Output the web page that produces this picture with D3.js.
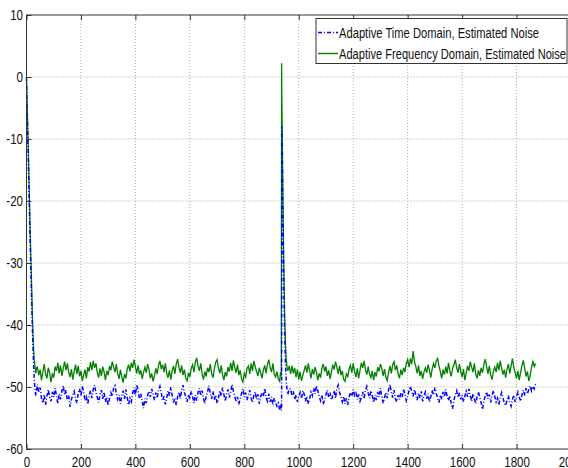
<!DOCTYPE html>
<html lang="en">
    <head>
        <meta charset="utf-8">
        <title>Adaptive noise estimate</title>
        <script src="https://cdn.jsdelivr.net/npm/d3@7"></script>
        <style type="text/css">
            body { margin: 0; background: #fff; }
            svg { display: block; }
            .axis text {
                font-family: "Liberation Sans", Arial, sans-serif;
                font-size: 15px;
                fill: #111;
            }
            .axis path, .axis line { stroke: #333; }
        </style>
    </head>
    <body>
        <script type="text/javascript">

            // ticks
            var xTicks=[0,200,400,600,800,1000,1200,1400,1600,1800,2000];
            var yTicks=[-60,-50,-40,-30,-20,-10,0,10];

            var seriesNames=["Adaptive Time Domain, Estimated Noise","Adaptive Frequency Domain, Estimated Noise"];

            // start-up transient
            var startX=[0,2,4,6,8,10,13,16,19,22,25,28,31,34,37];
            var startFreq=[0,-4,-7,-10,-14,-18,-24,-29,-34,-39,-43,-45.5,-46.5,-47.8,-46.9];
            var startTime=[0,-5,-9,-12,-16,-20,-26,-31,-36,-41,-45,-48.5,-50.2,-51.4,-50.6];

            // noise floor before the spike, samples 40..930 every 5
            var noiseStep=5;
            var noise1Start=40;
            var freqNoise1=[-46.8,-48.1,-47.2,-48.9,-47.6,-46.3,-47.9,-48.6,-46.9,-47.7,
                -49.2,-47.8,-48.5,-46.7,-47.4,-46.1,-47.8,-46.5,-48.2,-47.0,
                -45.9,-47.3,-46.2,-47.6,-48.4,-47.1,-48.8,-47.5,-46.4,-47.9,
                -46.6,-48.3,-47.4,-49.0,-48.1,-47.2,-48.6,-46.8,-47.5,-46.0,
                -47.3,-45.8,-46.9,-46.2,-47.7,-48.5,-47.0,-48.2,-46.7,-47.6,
                -48.9,-47.4,-48.1,-46.6,-47.3,-45.9,-46.8,-47.6,-46.3,-47.9,
                -48.7,-47.2,-48.4,-49.3,-47.9,-48.6,-47.1,-46.4,-47.5,-46.1,
                -46.9,-45.6,-46.7,-47.8,-46.5,-48.0,-47.3,-48.7,-47.6,-46.8,
                -47.7,-46.3,-47.2,-48.6,-47.8,-49.1,-48.2,-47.0,-47.9,-46.5,
                -45.8,-47.1,-46.4,-47.6,-46.2,-47.8,-48.5,-47.3,-48.8,-47.4,
                -46.6,-47.9,-46.3,-45.5,-46.8,-47.7,-46.5,-48.1,-47.2,-48.6,
                -49.0,-47.7,-48.4,-47.0,-46.4,-47.6,-46.0,-45.3,-46.6,-47.4,
                -46.2,-47.9,-48.8,-47.5,-48.3,-46.9,-47.6,-46.3,-47.8,-48.5,
                -47.1,-46.0,-45.6,-46.9,-47.8,-46.5,-48.0,-48.9,-47.6,-48.3,
                -46.8,-47.5,-46.1,-47.4,-45.7,-46.9,-47.7,-46.4,-48.1,-47.3,
                -48.7,-49.2,-47.8,-48.4,-47.0,-46.6,-47.9,-46.2,-47.4,-45.8,
                -46.7,-47.5,-48.2,-46.9,-47.7,-48.6,-47.3,-46.5,-47.8,-46.4,
                -45.6,-46.9,-47.6,-46.2,-47.9,-48.4,-47.5,-48.7,-49.1];
            var timeNoise1=[-49.6,-50.9,-50.1,-51.8,-52.6,-51.2,-52.9,-51.5,-50.4,-51.7,
                -52.3,-50.8,-51.6,-50.2,-51.4,-52.7,-51.1,-52.0,-50.6,-49.8,
                -51.3,-50.5,-52.1,-51.4,-53.2,-52.0,-51.3,-50.7,-51.9,-52.6,
                -51.0,-50.3,-51.5,-49.9,-50.8,-52.2,-51.6,-52.8,-51.4,-50.6,
                -51.8,-50.4,-49.7,-50.9,-51.7,-52.5,-51.2,-50.5,-51.9,-50.8,
                -52.4,-51.6,-53.0,-51.8,-50.9,-51.5,-50.2,-49.8,-51.1,-52.0,
                -51.3,-52.7,-51.5,-50.6,-51.9,-50.4,-51.7,-52.9,-51.8,-52.4,
                -51.0,-50.1,-51.4,-49.6,-50.7,-51.9,-51.1,-52.3,-53.4,-51.9,
                -52.6,-51.3,-50.7,-51.6,-50.3,-51.2,-52.1,-50.9,-51.8,-50.5,
                -49.9,-51.0,-52.2,-51.5,-52.8,-51.7,-50.6,-51.4,-50.0,-51.3,
                -52.5,-51.8,-52.9,-51.6,-50.8,-51.9,-50.5,-49.7,-50.9,-51.6,
                -52.4,-51.2,-52.0,-50.7,-51.5,-52.6,-51.3,-52.2,-50.9,-50.2,
                -51.4,-50.6,-51.8,-52.7,-51.5,-50.8,-49.8,-51.0,-51.9,-50.7,
                -52.1,-51.3,-52.6,-51.8,-50.6,-51.4,-50.1,-51.2,-52.3,-51.1,
                -50.4,-51.7,-50.8,-49.6,-50.7,-51.5,-52.4,-51.6,-52.8,-51.9,
                -51.0,-50.3,-51.6,-50.9,-52.1,-51.3,-50.5,-51.8,-52.5,-51.4,
                -50.8,-52.0,-51.2,-52.7,-51.6,-50.9,-51.5,-50.2,-51.7,-52.3,
                -51.1,-52.4,-51.6,-52.9,-51.8,-52.5,-53.1,-52.6,-53.7];

            // spike near sample 937
            var spikeX=[933,936,937,938,940,942,945,948,951,954,957,960,965];
            var spikeFreq=[-47.6,-48.2,2.2,-4,-11,-20,-30,-38,-43,-45.5,-46.8,-47.4,-46.6];
            var spikeTime=[-52.9,-53.8,-53.5,-8,-15,-23,-33,-41,-46,-49,-50.5,-51.2,-50.3];

            // noise floor after the spike, samples 970..1870 every 5
            var noise2Start=970;
            var freqNoise2=[-47.9,-46.6,-47.8,-46.9,-48.4,-47.2,-48.8,-47.5,-49.0,-48.1,
                -47.3,-46.5,-47.7,-46.2,-47.4,-48.6,-47.1,-48.0,-46.8,-47.6,
                -48.9,-47.8,-48.5,-47.0,-46.3,-47.5,-46.7,-48.2,-47.3,-48.7,
                -47.6,-46.4,-47.2,-45.9,-46.8,-47.9,-46.6,-48.1,-47.4,-48.8,
                -49.1,-47.9,-48.3,-47.1,-46.5,-47.7,-46.2,-47.5,-48.4,-47.0,
                -48.6,-47.3,-46.1,-46.9,-45.8,-47.2,-48.0,-46.7,-47.9,-48.5,
                -47.4,-48.9,-47.6,-48.3,-46.8,-47.5,-46.3,-47.0,-48.2,-47.1,
                -48.4,-49.0,-47.7,-46.6,-47.8,-46.4,-45.9,-47.3,-46.5,-47.9,
                -48.6,-47.2,-48.1,-46.9,-47.6,-46.2,-45.6,-46.8,-45.4,-46.3,
                -44.2,-45.9,-46.7,-47.8,-46.5,-48.2,-47.4,-48.7,-47.6,-46.9,
                -47.7,-46.4,-47.3,-48.5,-47.1,-46.2,-46.9,-45.8,-45.4,-46.6,
                -47.5,-48.6,-47.2,-48.0,-46.7,-47.8,-46.1,-47.4,-48.3,-47.0,
                -46.4,-45.6,-46.9,-47.7,-46.3,-47.5,-48.4,-47.1,-48.9,-47.8,
                -46.6,-47.4,-45.9,-46.8,-47.6,-46.2,-47.9,-48.6,-47.3,-48.2,
                -46.9,-47.7,-46.4,-45.5,-46.7,-47.9,-46.6,-48.1,-48.8,-47.5,
                -46.8,-47.6,-46.1,-47.3,-45.8,-46.9,-48.0,-47.2,-48.5,-47.1,
                -46.3,-47.8,-46.6,-45.4,-46.9,-47.7,-48.6,-47.4,-48.9,-47.6,
                -46.5,-45.7,-47.0,-48.3,-47.5,-49.0,-48.2,-46.8,-45.9,-46.7,
                -46.2];
            var timeNoise2=[-50.3,-51.4,-50.7,-52.0,-51.3,-52.4,-51.6,-50.9,-51.8,-50.6,
                -51.2,-52.3,-51.5,-52.7,-51.9,-50.8,-51.4,-50.2,-51.1,-49.8,
                -50.6,-51.5,-52.2,-51.3,-52.8,-52.0,-51.2,-50.5,-51.7,-50.9,
                -52.1,-51.4,-50.6,-51.8,-50.3,-49.7,-50.9,-51.6,-52.4,-51.5,
                -52.7,-51.8,-52.9,-51.6,-50.9,-51.5,-50.4,-51.3,-50.7,-52.0,
                -51.2,-52.3,-51.7,-50.8,-51.9,-50.5,-49.9,-51.0,-51.8,-50.6,
                -51.4,-52.5,-51.3,-52.1,-50.8,-51.6,-50.2,-51.5,-52.6,-51.7,
                -50.9,-51.8,-50.4,-49.6,-50.8,-51.7,-50.5,-51.9,-52.4,-51.3,
                -52.0,-50.9,-51.6,-50.3,-51.2,-52.2,-51.5,-50.6,-49.9,-50.7,
                -51.5,-50.4,-51.3,-52.1,-51.0,-51.8,-50.7,-52.3,-51.4,-50.8,
                -51.9,-51.1,-52.4,-51.6,-50.5,-51.3,-50.1,-51.0,-51.8,-52.5,
                -51.3,-52.0,-50.8,-51.6,-50.4,-51.5,-52.2,-51.4,-52.6,-53.5,
                -52.1,-51.2,-50.6,-51.7,-50.9,-52.0,-51.3,-52.4,-51.5,-50.7,
                -51.6,-50.3,-51.4,-52.3,-51.1,-51.9,-52.7,-51.6,-50.8,-51.7,
                -52.5,-53.6,-52.3,-51.4,-50.8,-51.9,-51.2,-52.5,-51.3,-50.6,
                -51.5,-52.4,-51.8,-52.9,-51.6,-50.9,-51.7,-52.6,-53.0,-52.2,
                -51.4,-52.5,-53.1,-52.0,-51.3,-52.4,-51.5,-50.8,-51.6,-52.3,
                -51.2,-50.5,-51.4,-50.2,-51.1,-50.4,-49.8,-50.6,-49.9,-50.3,
                -49.4];

            var w=568;
            var h=468;
            var padLeft=26.5, padRight=571, padTop=15, padBottom=449;
            var squash="scale(0.77,1)";

            function build(xs, ys){
                return xs.map(function(x,i){ return {x:x, y:ys[i]}; });
            }
            function buildNoise(start, ys){
                return ys.map(function(y,i){ return {x:start+i*noiseStep, y:y}; });
            }

            var timeData=build(startX,startTime)
                .concat(buildNoise(noise1Start,timeNoise1))
                .concat(build(spikeX,spikeTime))
                .concat(buildNoise(noise2Start,timeNoise2));
            var freqData=build(startX,startFreq)
                .concat(buildNoise(noise1Start,freqNoise1))
                .concat(build(spikeX,spikeFreq))
                .concat(buildNoise(noise2Start,freqNoise2));

            var xScale=d3.scaleLinear().domain([0,2000]).range([padLeft,padRight]);
            var yScale=d3.scaleLinear().domain([-60,10]).range([padBottom,padTop]);

            var svg = d3.select("body")
                .append("svg")
                .attr("width", w)
                .attr("height", h);

            // grid
            svg.append("g").selectAll("line")
                .data(xTicks.slice(1,-1))
                .enter().append("line")
                .attr("x1",function(d){ return xScale(d); })
                .attr("x2",function(d){ return xScale(d); })
                .attr("y1",padTop).attr("y2",padBottom)
                .attr("stroke","#aaa").attr("stroke-dasharray","1,2");
            svg.append("g").selectAll("line")
                .data(yTicks.slice(1,-1))
                .enter().append("line")
                .attr("y1",function(d){ return yScale(d); })
                .attr("y2",function(d){ return yScale(d); })
                .attr("x1",padLeft).attr("x2",padRight)
                .attr("stroke","#aaa").attr("stroke-dasharray","1,2");

            var line=d3.line()
                .x(function(d){ return xScale(d.x); })
                .y(function(d){ return yScale(d.y); });

            svg.append("path")
                .datum(freqData)
                .attr("d",line)
                .attr("fill","none")
                .attr("stroke","#008000")
                .attr("stroke-width",1.3);
            svg.append("path")
                .datum(timeData)
                .attr("d",line)
                .attr("fill","none")
                .attr("stroke","#0000ff")
                .attr("stroke-width",1.5)
                .attr("stroke-dasharray","4,2,1,2");

            // axes, ticks pointing inward, plain hyphen for negatives
            var plain=function(d){ return String(d); };
            var xAxis=d3.axisBottom(xScale).tickValues(xTicks).tickFormat(plain)
                .tickSize(-5).tickSizeOuter(0).tickPadding(7);
            var yAxis=d3.axisLeft(yScale).tickValues(yTicks).tickFormat(plain)
                .tickSize(-5).tickSizeOuter(0).tickPadding(4.5);
            svg.append("g").attr("class","axis")
                .attr("transform","translate(0,"+padBottom+")")
                .call(xAxis);
            svg.append("g").attr("class","axis")
                .attr("transform","translate("+padLeft+",0)")
                .call(yAxis);
            svg.append("g").attr("class","axis")
                .attr("transform","translate(0,"+padTop+")")
                .call(d3.axisTop(xScale).tickValues(xTicks).tickSize(-5).tickSizeOuter(0).tickFormat(""));
            svg.selectAll(".axis text").attr("transform",squash);
            svg.selectAll(".axis .domain").remove();

            svg.append("rect")
                .attr("x",padLeft).attr("y",padTop)
                .attr("width",padRight-padLeft).attr("height",padBottom-padTop)
                .attr("fill","none").attr("stroke","#333");

            // legend
            var lg=svg.append("g");
            lg.append("rect")
                .attr("x",316).attr("y",18.5)
                .attr("width",251).attr("height",45)
                .attr("fill","#fff").attr("stroke","#333");
            var legendRows=[
                {name:seriesNames[0], color:"#0000ff", dash:"4,2,1,2", y:32.5, len:200},
                {name:seriesNames[1], color:"#008000", dash:null, y:53.5, len:227}
            ];
            lg.selectAll("line")
                .data(legendRows)
                .enter().append("line")
                .attr("x1",318).attr("x2",338)
                .attr("y1",function(d){ return d.y; })
                .attr("y2",function(d){ return d.y; })
                .attr("stroke",function(d){ return d.color; })
                .attr("stroke-width",1.4)
                .attr("stroke-dasharray",function(d){ return d.dash; });
            lg.selectAll("text")
                .data(legendRows)
                .enter().append("text")
                .attr("x",339)
                .attr("y",function(d){ return d.y+5; })
                .attr("textLength",function(d){ return d.len; })
                .attr("lengthAdjust","spacingAndGlyphs")
                .style("font-family","'Liberation Sans', Arial, sans-serif")
                .style("font-size","14px")
                .style("fill","#111")
                .text(function(d){ return d.name; });

        </script>
    </body>
</html>
